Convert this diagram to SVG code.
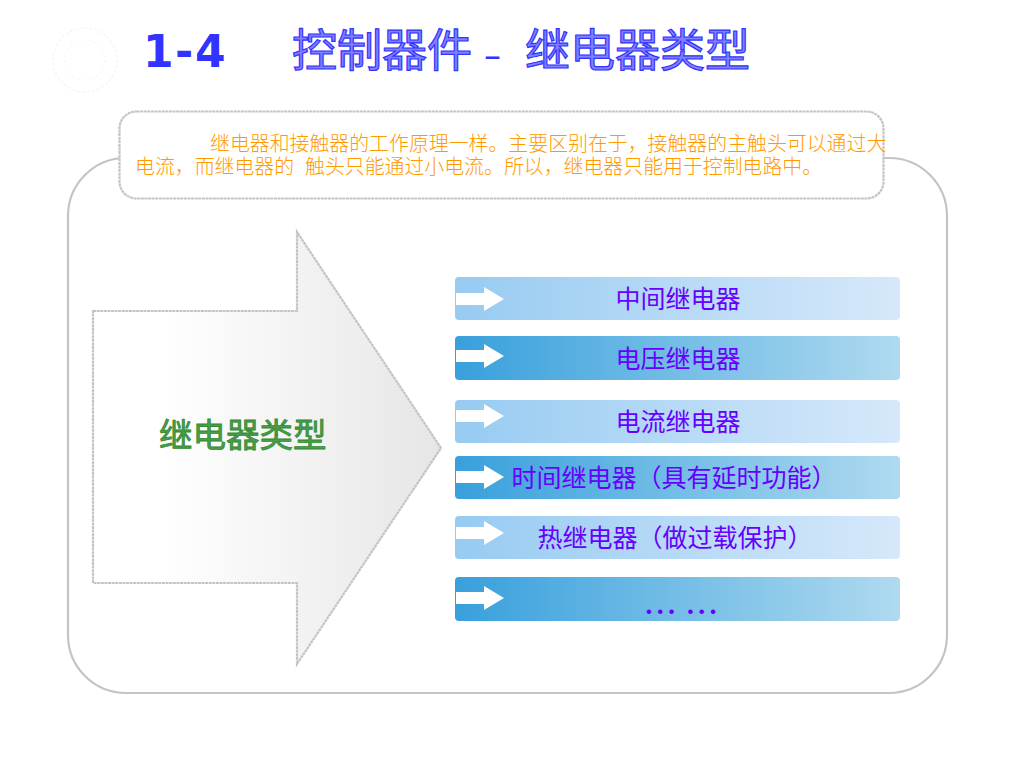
<svg xmlns="http://www.w3.org/2000/svg" width="1024" height="768" viewBox="0 0 1024 768">
<style>
text{font-family:"Noto Sans CJK SC",sans-serif}
.outline{fill:none;stroke:#c4c4c4;stroke-width:2.200}
.dash{stroke-dasharray:3 .6}
.title{font-size:45px;fill:#8080ff;stroke:#3333ff;stroke-width:1.200}
.label{font-size:25px;fill:#6600ff;text-anchor:middle}
.para{font-size:19.900px;fill:#ff9900;font-weight:300}
.arrow{fill:#fff}
.c1{fill:url(#light)}.c2{fill:url(#dark)}
</style>
<defs>
<linearGradient id="light"><stop offset="0" stop-color="#97cbf2"/><stop offset="1" stop-color="#d6e8fa"/></linearGradient>
<linearGradient id="dark"><stop offset="0" stop-color="#38a0dc"/><stop offset="1" stop-color="#afdaf0"/></linearGradient>
<linearGradient id="grey"><stop offset="0" stop-color="#fff"/><stop offset=".2" stop-color="#fff"/><stop offset="1" stop-color="#e6e6e6"/></linearGradient>
<path id="a" class="arrow" d="M456 -6H484V-12L504 0L484 12V6H456Z"/>
</defs>
<rect width="1024" height="768" fill="#fff"/>
<g id="seal" fill="none" stroke="#f6f6f6" stroke-width="1.500"><circle cx="85" cy="60" r="32" stroke-dasharray="3 2"/><circle cx="85" cy="60" r="20" stroke-dasharray="2 4"/></g>
<g id="title">
<text x="143" y="67" font-size="44" font-weight="700" fill="#3333ff" style="font-family:'DejaVu Sans',sans-serif" letter-spacing="1.500">1-4</text>
<text class="title" x="292" y="67">控制器件</text>
<text x="484" y="67" font-size="34" fill="#3333ff" style="font-family:'DejaVu Sans',sans-serif">–</text>
<text class="title" x="525" y="67">继电器类型</text>
</g>
<g id="panel"><rect class="outline" x="68" y="158" width="879" height="535" rx="58" ry="58"/></g>
<g id="note">
<rect x="119.500" y="111.500" width="764" height="87" rx="17" class="outline dash" style="fill:#fff"/>
<text class="para" x="210" y="151">继电器和接触器的工作原理一样。主要区别在于，接触器的主触头可以通过大</text>
<text class="para" y="174"><tspan x="135">电流，而继电器的</tspan><tspan x="305">触头只能通过小电流。所以，继电器只能用于控制电路中。</tspan></text>
</g>
<g id="big-arrow">
<path d="M93 311H297V232L441 448L297 664V583H93Z" fill="url(#grey)" stroke="#c4c4c4" stroke-width="2.200" stroke-dasharray="3 .6"/>
<text x="159" y="447" font-size="33.500" fill="#4c9c4c" stroke="#2e8b2e" stroke-width=".8">继电器类型</text>
</g>
<g id="item1"><rect class="c1" x="455" y="277" width="445" height="43" rx="4"/><use href="#a" y="299"/><text class="label" x="678" y="308">中间继电器</text></g>
<g id="item2"><rect class="c2" x="455" y="336" width="445" height="44" rx="4"/><use href="#a" y="356"/><text class="label" x="678" y="368">电压继电器</text></g>
<g id="item3"><rect class="c1" x="455" y="400" width="445" height="43" rx="4"/><use href="#a" y="416"/><text class="label" x="678" y="431">电流继电器</text></g>
<g id="item4"><rect class="c2" x="455" y="456" width="445" height="43" rx="4"/><use href="#a" y="477"/><text class="label" x="674" y="487">时间继电器（具有延时功能）</text></g>
<g id="item5"><rect class="c1" x="455" y="516" width="445" height="43" rx="4"/><use href="#a" y="533"/><text class="label" x="675" y="547">热继电器（做过载保护）</text></g>
<g id="item6"><rect class="c2" x="455" y="577" width="445" height="44" rx="4"/><use href="#a" y="598"/><text class="label" x="681" y="625" style="font-size:34px">… …</text></g>
<g id="connectors"/>
</svg>
